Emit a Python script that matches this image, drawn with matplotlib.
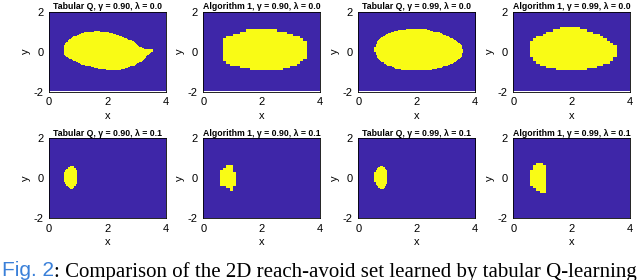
import numpy as np
import matplotlib
matplotlib.use("Agg")
import matplotlib.pyplot as plt
from matplotlib.path import Path
from matplotlib.colors import ListedColormap

plt.rcParams['font.family'] = ['Liberation Sans', 'DejaVu Sans']

# ---- data: panel titles and boundary of the yellow (reach-avoid) set ----
titles = [
    "Tabular Q, γ = 0.90, λ = 0.0",
    "Algorithm 1, γ = 0.90, λ = 0.0",
    "Tabular Q, γ = 0.99, λ = 0.0",
    "Algorithm 1, γ = 0.99, λ = 0.0",
    "Tabular Q, γ = 0.90, λ = 0.1",
    "Algorithm 1, γ = 0.90, λ = 0.1",
    "Tabular Q, γ = 0.99, λ = 0.1",
    "Algorithm 1, γ = 0.99, λ = 0.1",
]
grid_cells = [101, 35, 101, 35, 101, 35, 101, 35]

p1_x = [0.52, 0.66, 0.89, 1.30, 1.64, 1.91, 2.37, 2.83, 3.22, 3.55, 3.55, 3.45, 3.28, 2.94, 2.60, 2.26, 1.68, 1.12, 0.72, 0.52]
p1_y = [0.27, 0.57, 0.77, 0.96, 1.00, 0.97, 0.80, 0.52, 0.12, 0.08, -0.06, -0.10, -0.39, -0.72, -0.88, -0.95, -0.88, -0.68, -0.39, -0.22]

p2_x = [0.63, 0.69, 0.86, 1.09, 1.37, 1.84, 2.19, 2.70, 3.05, 3.28, 3.45, 3.57, 3.57, 3.45, 3.24, 2.99, 2.70, 2.30, 1.84, 1.38, 1.03, 0.80, 0.66, 0.63]
p2_y = [0.52, 0.60, 0.72, 0.85, 0.98, 1.12, 1.12, 0.98, 0.85, 0.72, 0.56, 0.40, -0.30, -0.50, -0.66, -0.80, -0.93, -0.98, -0.98, -0.85, -0.73, -0.59, -0.50, -0.47]

p3_x = [0.55, 0.65, 0.90, 1.30, 1.80, 2.30, 2.80, 3.25, 3.50, 3.57, 3.50, 3.25, 2.80, 2.30, 1.80, 1.30, 0.90, 0.65]
p3_y = [0.05, 0.50, 0.80, 1.02, 1.10, 1.08, 0.90, 0.60, 0.30, 0.00, -0.30, -0.60, -0.85, -0.95, -0.97, -0.88, -0.65, -0.35]

p4_x = [0.57, 0.74, 0.91, 1.31, 1.59, 2.28, 2.62, 2.90, 3.19, 3.41, 3.52, 3.52, 3.41, 3.19, 2.90, 2.62, 2.28, 1.70, 1.31, 0.91, 0.69, 0.57]
p4_y = [0.53, 0.60, 0.76, 1.00, 1.15, 1.15, 1.00, 0.85, 0.60, 0.40, 0.25, -0.25, -0.45, -0.65, -0.80, -0.90, -0.97, -0.97, -0.85, -0.70, -0.45, -0.22]

p5_x = [0.51, 0.60, 0.72, 0.85, 0.97, 0.97, 0.88, 0.80, 0.68, 0.57, 0.51]
p5_y = [0.25, 0.45, 0.62, 0.60, 0.35, -0.20, -0.45, -0.55, -0.50, -0.30, -0.10]

p6_x = [0.61, 0.75, 0.85, 1.00, 1.08, 1.15, 1.12, 1.02, 0.85, 0.72, 0.61]
p6_y = [0.40, 0.55, 0.65, 0.65, 0.35, 0.10, -0.30, -0.60, -0.55, -0.40, -0.35]

p7_x = [0.55, 0.63, 0.77, 0.88, 1.00, 1.00, 0.92, 0.82, 0.70, 0.60, 0.55]
p7_y = [0.25, 0.45, 0.62, 0.58, 0.30, -0.20, -0.45, -0.55, -0.50, -0.30, -0.10]

p8_x = [0.59, 0.70, 0.80, 1.08, 1.12, 1.19, 1.19, 0.95, 0.80, 0.68, 0.59]
p8_y = [0.40, 0.55, 0.69, 0.69, 0.55, 0.45, -0.69, -0.69, -0.60, -0.50, -0.30]

boundaries = [(p1_x, p1_y), (p2_x, p2_y), (p3_x, p3_y), (p4_x, p4_y),
              (p5_x, p5_y), (p6_x, p6_y), (p7_x, p7_y), (p8_x, p8_y)]

x_ticks = [0, 2, 4]
y_ticks = [-2, 0, 2]
y_ticklabels = ["-2", "0", "2"]

caption_head = "Fig. 2"
caption_body = ": Comparison of the 2D reach-avoid set learned by tabular Q-learning"

# ---- figure ----
W, H = 640, 280
fig = plt.figure(figsize=(W / 100, H / 100), dpi=100)
cmap = ListedColormap(["#3E26A8", "#F9FB15"])

col_left = [49, 203.3, 358.3, 513.3]
row_top = [11.5, 138.3]
ax_w, ax_h = 117, 80.0

for i, (title, (bx, by), n) in enumerate(zip(titles, boundaries, grid_cells)):
    r, c = divmod(i, 4)
    l = col_left[c] / W
    b = 1 - (row_top[r] + ax_h) / H
    ax = fig.add_axes([l, b, ax_w / W, ax_h / H])
    xs = (np.arange(n) + 0.5) / n * 4.0
    ys = (np.arange(n) + 0.5) / n * 4.0 - 2.0
    XX, YY = np.meshgrid(xs, ys)
    path = Path(np.column_stack([bx, by]))
    inside = path.contains_points(np.column_stack([XX.ravel(), YY.ravel()])).reshape(XX.shape)
    ax.imshow(inside.astype(float), cmap=cmap, vmin=0, vmax=1, origin='lower',
              extent=[0, 4, -2, 2], aspect='auto', interpolation='nearest')
    ax.set_xlim(0, 4)
    ax.set_ylim(-2, 2)
    ax.set_xticks(x_ticks)
    ax.set_yticks(y_ticks)
    ax.set_yticklabels(y_ticklabels)
    ax.tick_params(length=0, labelsize=8, pad=4)
    ax.set_xlabel("x", fontsize=8, labelpad=2.5)
    ax.set_ylabel("y", fontsize=8, labelpad=2)
    for s in ax.spines.values():
        s.set_linewidth(0.6)
    ax.set_title(title, fontsize=6.3, fontweight='bold', pad=0.3)

# caption, scaled so that it spans the figure width like the reference
base_fs = 12.5
baseline = 3.5 / H
t1 = fig.text(2 / W, baseline, caption_head, color="#3a80d9", fontsize=base_fs,
              family='Liberation Sans', va='baseline')
t2 = fig.text(0, baseline, caption_body, color="black", fontsize=base_fs,
              family='Liberation Serif', va='baseline')
fig.canvas.draw()
rend = fig.canvas.get_renderer()
w_total = t1.get_window_extent(rend).width + t2.get_window_extent(rend).width
fs = base_fs * (638 - 2) / w_total
t1.set_fontsize(fs)
t2.set_fontsize(fs)
fig.canvas.draw()
bb = t1.get_window_extent(rend)
t2.set_x(bb.x1 / W)

fig.savefig("out.png", dpi=100)
